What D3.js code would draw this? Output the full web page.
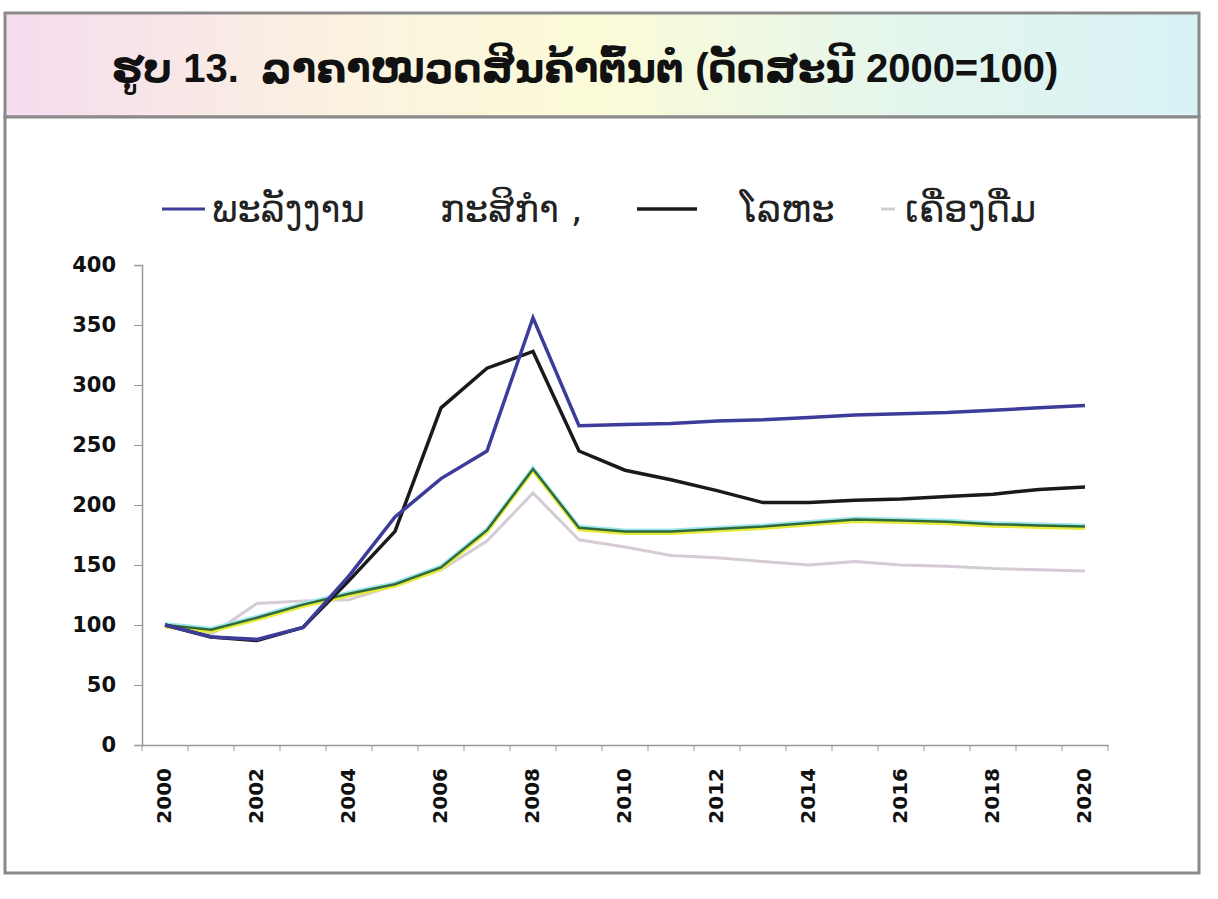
<!DOCTYPE html>
<html><head><meta charset="utf-8">
<script src="https://cdn.jsdelivr.net/npm/d3@7"></script>
<style>body{margin:0;background:#fff}svg{display:block}</style>
</head><body>
<svg id="c" width="1218" height="899"></svg>
<script>
const years = d3.range(2000, 2021);
const energy    = [100, 90, 88, 98, 141, 190, 222, 245, 356, 266, 267, 268, 270, 271, 273, 275, 276, 277, 279, 281, 283];
const metals    = [100, 90, 87, 98, 137, 178, 281, 314, 328, 245, 229, 221, 212, 202, 202, 204, 205, 207, 209, 213, 215];
const agri      = [100, 96, 106, 117, 126, 134, 148, 179, 230, 181, 178, 178, 180, 182, 185, 188, 187, 186, 184, 183, 182];
const beverages = [100, 92, 118, 120, 121, 133, 146, 170, 210, 171, 165, 158, 156, 153, 150, 153, 150, 149, 147, 146, 145];
const yTicks = [0, 50, 100, 150, 200, 250, 300, 350, 400];
const xLabels = [2000, 2002, 2004, 2006, 2008, 2010, 2012, 2014, 2016, 2018, 2020];
const titleText = "ຮູບ 13.  ລາຄາໝວດສິນຄ້າຕົ້ນຕໍ (ດັດສະນີ 2000=100)";
const legendNames = ["ພະລັງງານ", "ກະສິກຳ ,", "ໂລຫະ", "ເຄື່ອງດື່ມ"];

const svg = d3.select("#c");
const font = "'Liberation Sans', Arial, 'DejaVu Sans', sans-serif";
const tickFont = "'DejaVu Sans', sans-serif";

const defs = svg.append("defs");
const g1 = defs.append("linearGradient").attr("id","tg").attr("x1","0").attr("x2","1").attr("y1","0").attr("y2","0");
[["0%","#f6dcef"],["30%","#fbf3df"],["50%","#fbfbd8"],["75%","#e4f6ec"],["100%","#d8f2f6"]].forEach(s=>g1.append("stop").attr("offset",s[0]).attr("stop-color",s[1]));

svg.append("rect").attr("x",5).attr("y",13).attr("width",1194).attr("height",104)
  .attr("fill","url(#tg)").attr("stroke","#8a8a8a").attr("stroke-width",3);
svg.append("rect").attr("x",5).attr("y",117).attr("width",1194).attr("height",756)
  .attr("fill","#fff").attr("stroke","#8a8a8a").attr("stroke-width",3);

svg.append("text").attr("x",585).attr("y",82).attr("text-anchor","middle").style("white-space","pre")
  .attr("font-family",font).attr("font-size",40).attr("font-weight","bold").attr("fill","#111").text(titleText);

const x = d3.scaleBand().domain(years).range([142, 1108]).paddingInner(0).paddingOuter(0);
const y = d3.scaleLinear().domain([0, 400]).range([745, 265]);
const cx = d => x(d) + x.bandwidth()/2;

const ya = svg.append("g").attr("transform","translate(142,0)")
  .call(d3.axisLeft(y).tickValues(yTicks).tickSize(8).tickPadding(18));
ya.select(".domain").attr("stroke","#999").attr("stroke-width",1.5);
ya.selectAll(".tick line").attr("stroke","#999");
ya.selectAll("text").attr("font-family",tickFont).attr("font-weight","bold").attr("font-size",21).attr("fill","#111");

const xa = svg.append("g").attr("transform","translate(0,745)")
  .call(d3.axisBottom(x).tickSize(0).tickFormat(d => xLabels.includes(d) ? d : ""));
xa.select(".domain").attr("stroke","#999").attr("stroke-width",1.5);
xa.selectAll("text").attr("font-family",tickFont).attr("font-weight","bold").attr("font-size",20).attr("fill","#111")
  .attr("transform","rotate(-90)").attr("text-anchor","end").attr("dy","0.35em").attr("x",-23).attr("y",-1);
svg.append("g").selectAll("line").data(years.concat([2021])).join("line")
  .attr("x1", d => d===2021 ? 1108 : x(d)).attr("x2", d => d===2021 ? 1108 : x(d))
  .attr("y1",745).attr("y2",751).attr("stroke","#999");

const line = d3.line().x((d,i)=>cx(years[i])).y(d=>y(d));

svg.append("path").datum(beverages).attr("d",line).attr("fill","none").attr("stroke","#ddc8de").attr("stroke-width",3);
svg.append("path").datum(beverages).attr("d",line).attr("fill","none").attr("stroke","#cfcfcf").attr("stroke-width",1.5);
svg.append("path").datum(agri).attr("d",line).attr("fill","none").attr("stroke","#9fe6ee").attr("stroke-width",3).attr("transform","translate(0,-1.5)");
svg.append("path").datum(agri).attr("d",line).attr("fill","none").attr("stroke","#e8ea3a").attr("stroke-width",3).attr("transform","translate(0,2)");
svg.append("path").datum(agri).attr("d",line).attr("fill","none").attr("stroke","#2f6b3a").attr("stroke-width",2.5);
svg.append("path").datum(metals).attr("d",line).attr("fill","none").attr("stroke","#1a1a1a").attr("stroke-width",3.5);
svg.append("path").datum(energy).attr("d",line).attr("fill","none").attr("stroke","#3c3c9a").attr("stroke-width",3.5);

const lg = svg.append("g").attr("font-family","'DejaVu Sans', sans-serif").attr("font-size",37).attr("fill","#222");
lg.append("line").attr("x1",162).attr("x2",205).attr("y1",209).attr("y2",209).attr("stroke","#3c3c9a").attr("stroke-width",3);
lg.append("text").attr("x",212).attr("y",222).text(legendNames[0]);
lg.append("text").attr("x",440).attr("y",222).text(legendNames[1]);
lg.append("line").attr("x1",637).attr("x2",697).attr("y1",209).attr("y2",209).attr("stroke","#1a1a1a").attr("stroke-width",3.5);
lg.append("text").attr("x",740).attr("y",222).text(legendNames[2]);
lg.append("line").attr("x1",881).attr("x2",895).attr("y1",209).attr("y2",209).attr("stroke","#cfcfcf").attr("stroke-width",3);
lg.append("text").attr("x",905).attr("y",222).text(legendNames[3]);
</script>
</body></html>
